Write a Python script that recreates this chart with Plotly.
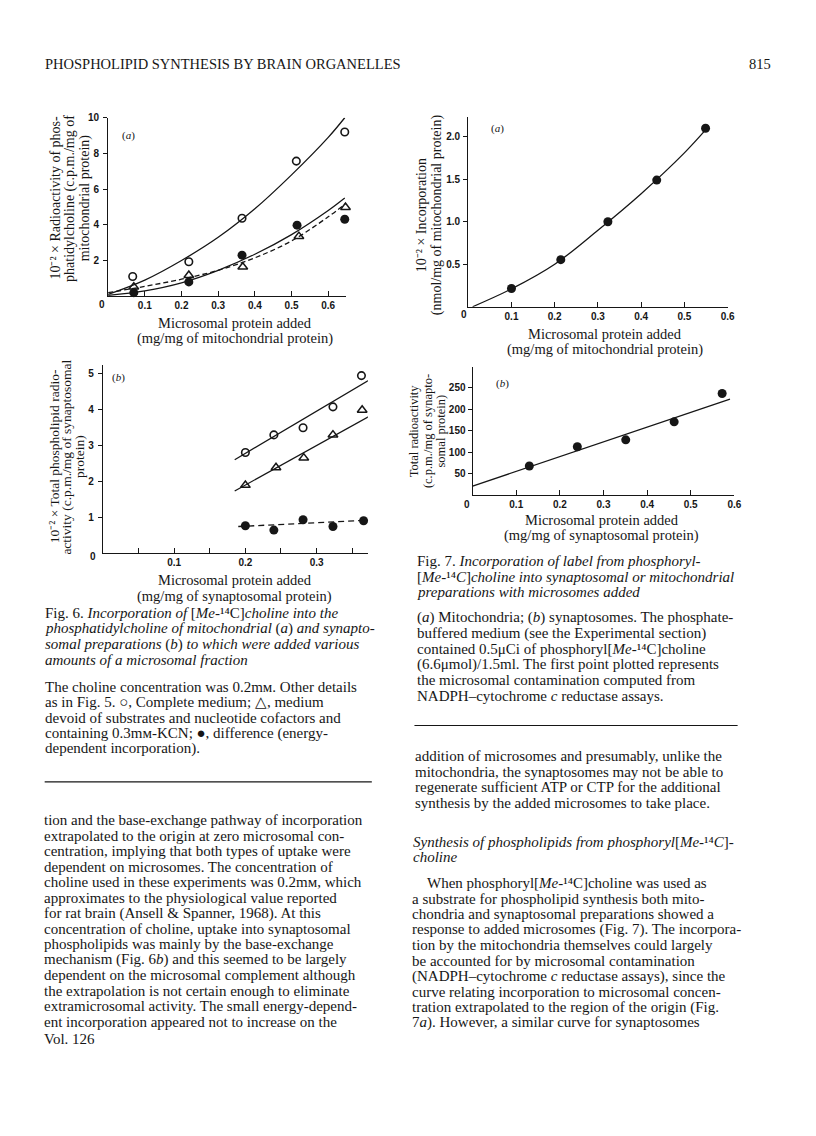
import plotly.graph_objects as go

# page geometry: the figure div sits 8px in from the page corner (default body margin)
PAGE_W, PAGE_H = 816, 1136
OFF = 8
W, H = PAGE_W - OFF, PAGE_H - OFF
SERIF = "Liberation Serif"
SANS = "Liberation Sans"
INK = "#161616"

# ---------------- data ----------------
# Fig. 6a  mitochondria + [Me-14C]choline
f6a_complete_x = [0.067, 0.22, 0.365, 0.513, 0.645]
f6a_complete_y = [1.1, 1.93, 4.37, 7.57, 9.2]
f6a_kcn_x = [0.07, 0.22, 0.367, 0.52, 0.647]
f6a_kcn_y = [0.52, 1.17, 1.64, 3.35, 4.98]
f6a_diff_x = [0.07, 0.22, 0.365, 0.515, 0.645]
f6a_diff_y = [0.2, 0.8, 2.3, 3.98, 4.31]
f6a_curve_x = [0.0, 0.1, 0.2, 0.3, 0.4, 0.5, 0.6, 0.645]
f6a_upper_y = [0.1, 0.9, 2.0, 3.3, 4.9, 6.8, 8.9, 10.0]
f6a_lower_y = [0.05, 0.3, 0.75, 1.45, 2.35, 3.45, 4.8, 5.5]
f6a_dash_x = [0.0, 0.1, 0.2, 0.3, 0.4, 0.5, 0.6, 0.648]
f6a_dash_y = [0.2, 0.55, 0.95, 1.45, 2.15, 3.1, 4.45, 5.2]

# Fig. 6b  synaptosomes
f6b_complete_x = [0.2, 0.24, 0.281, 0.323, 0.363]
f6b_complete_y = [2.8, 3.29, 3.49, 4.07, 4.94]
f6b_kcn_x = [0.2, 0.243, 0.282, 0.323, 0.364]
f6b_kcn_y = [1.89, 2.38, 2.65, 3.29, 3.98]
f6b_diff_x = [0.2, 0.24, 0.281, 0.323, 0.366]
f6b_diff_y = [0.76, 0.64, 0.93, 0.74, 0.9]
f6b_upper_x = [0.185, 0.381]
f6b_upper_y = [2.6, 4.9]
f6b_lower_x = [0.185, 0.384]
f6b_lower_y = [1.73, 3.92]
f6b_dash_x = [0.19, 0.377]
f6b_dash_y = [0.74, 0.92]

# Fig. 7a  mitochondria + phosphoryl[Me-14C]choline
f7a_x = [0.1, 0.214, 0.323, 0.436, 0.549]
f7a_y = [0.214, 0.554, 1.0, 1.49, 2.1]
f7a_curve_x = [0.01, 0.1, 0.2, 0.3, 0.4, 0.5, 0.549]
f7a_curve_y = [0.0, 0.21, 0.5, 0.9, 1.33, 1.81, 2.08]

# Fig. 7b  synaptosomes
f7b_x = [0.13, 0.24, 0.351, 0.462, 0.572]
f7b_y = [68, 113, 129, 171, 237]
f7b_line_x = [0.0, 0.59]
f7b_line_y = [21, 224]

# tick labels
t6a_x = [0.1, 0.2, 0.3, 0.4, 0.5, 0.6]
t6a_y = [2, 4, 6, 8, 10]
t6b_x = [0.1, 0.2, 0.3]
t6b_xminor = [0.05, 0.15, 0.25, 0.35]
t6b_y = [1, 2, 3, 4, 5]
t7a_x = [0.1, 0.2, 0.3, 0.4, 0.5, 0.6]
t7a_y = [0.5, 1.0, 1.5, 2.0]
t7a_ytext = ["0.5", "1.0", "1.5", "2.0"]
t7b_x = [0.1, 0.2, 0.3, 0.4, 0.5, 0.6]
t7b_y = [50, 100, 150, 200, 250]

fig = go.Figure()

def xdom(left, right):
    return [(left - OFF) / W, (right - OFF) / W]

def ydom(top, bottom):
    return [1 - (bottom - OFF) / H, 1 - (top - OFF) / H]

tickfont = dict(family=SANS, size=10, color=INK, weight="bold")

def axis_x(domain, rng, tv, tt, anchor, minor=None):
    d = dict(domain=domain, range=rng, anchor=anchor, showline=True, linecolor=INK,
             linewidth=1.2, showgrid=False, zeroline=False, ticks="inside", ticklen=5,
             tickwidth=1.1, tickcolor=INK, tickvals=tv, ticktext=tt, tickfont=tickfont,
             fixedrange=True)
    if minor:
        d["minor"] = dict(tickvals=minor, ticks="inside", ticklen=5, tickwidth=1.1,
                          tickcolor=INK, showgrid=False)
    return d

def axis_y(domain, rng, tv, tt, anchor, standoff=2):
    return dict(domain=domain, range=rng, anchor=anchor, showline=True, linecolor=INK,
                linewidth=1.2, showgrid=False, zeroline=False, ticks="outside", ticklen=4,
                tickwidth=1.1, tickcolor=INK, tickvals=tv, ticktext=tt, tickfont=tickfont,
                ticklabelstandoff=standoff, fixedrange=True)

fmt = lambda v: [("%g" % t) for t in v]

fig.update_layout(
    xaxis=axis_x(xdom(109, 348.8), [0, 0.648], t6a_x, fmt(t6a_x), "y"),
    yaxis=axis_y(ydom(112.3, 291.7), [0, 10], t6a_y, fmt(t6a_y), "x"),
    xaxis2=axis_x(xdom(103.8, 371), [0, 0.372], t6b_x, fmt(t6b_x), "y2", t6b_xminor),
    yaxis2=axis_y(ydom(360.7, 550), [0, 5.24], t6b_y, fmt(t6b_y), "x2"),
    xaxis3=axis_x(xdom(472.3, 733.9), [0, 0.6], t7a_x, fmt(t7a_x), "y3"),
    yaxis3=axis_y(ydom(111.7, 302.3), [0, 2.23], t7a_y, t7a_ytext, "x3", 1),
    xaxis4=axis_x(xdom(476.7, 740.7), [0, 0.6], t7b_x, fmt(t7b_x), "y4"),
    yaxis4=axis_y(ydom(363.3, 491.7), [0, 298], t7b_y, fmt(t7b_y), "x4", 0),
)

def line(x, y, ax, dash="solid", spline=False):
    fig.add_trace(go.Scatter(x=x, y=y, xaxis=ax[0], yaxis=ax[1], mode="lines",
                             line=dict(color=INK, width=1.3, dash=dash,
                                       shape="spline" if spline else "linear"),
                             hoverinfo="skip", cliponaxis=False))

def pts(x, y, ax, kind):
    if kind == "open":
        m = dict(symbol="circle-open", size=7.5, color=INK, line=dict(width=1.6, color=INK))
    elif kind == "tri":
        m = dict(symbol="triangle-up-open", size=8.5, color=INK, line=dict(width=1.5, color=INK))
    else:
        m = dict(symbol="circle", size=9, color=INK, line=dict(width=0))
    fig.add_trace(go.Scatter(x=x, y=y, xaxis=ax[0], yaxis=ax[1], mode="markers",
                             marker=m, cliponaxis=False))

A6a = ("x", "y"); A6b = ("x2", "y2"); A7a = ("x3", "y3"); A7b = ("x4", "y4")

line(f6a_curve_x, f6a_upper_y, A6a, spline=True)
line(f6a_curve_x, f6a_lower_y, A6a, spline=True)
line(f6a_dash_x, f6a_dash_y, A6a, dash="5px,3px", spline=True)
pts(f6a_complete_x, f6a_complete_y, A6a, "open")
pts(f6a_kcn_x, f6a_kcn_y, A6a, "tri")
pts(f6a_diff_x, f6a_diff_y, A6a, "fill")

line(f6b_upper_x, f6b_upper_y, A6b)
line(f6b_lower_x, f6b_lower_y, A6b)
line(f6b_dash_x, f6b_dash_y, A6b, dash="6px,4px")
pts(f6b_complete_x, f6b_complete_y, A6b, "open")
pts(f6b_kcn_x, f6b_kcn_y, A6b, "tri")
pts(f6b_diff_x, f6b_diff_y, A6b, "fill")

line(f7a_curve_x, f7a_curve_y, A7a, spline=True)
pts(f7a_x, f7a_y, A7a, "fill")

line(f7b_line_x, f7b_line_y, A7b)
pts(f7b_x, f7b_y, A7b, "fill")

# ---------------- text ----------------
def txt(x, y, text, size=15, anchor="left", angle=0, family=SERIF, weight="normal"):
    fig.add_annotation(x=(x - OFF) / W, y=1 - (y - OFF) / H, xref="paper", yref="paper",
                       text=text, showarrow=False, xanchor=anchor, yanchor="middle",
                       textangle=angle, borderpad=0,
                       font=dict(family=family, size=size, color=INK, weight=weight))

# running head
txt(44, 58, "PHOSPHOLIPID SYNTHESIS BY BRAIN ORGANELLES", size=14.5)
txt(779, 58, "815", size=14.5, anchor="right")

# origin zeros
txt(102.7, 300, "0", size=10, anchor="center", family=SANS, weight="bold")
txt(93.3, 553.3, "0", size=10, anchor="center", family=SANS, weight="bold")
txt(467.7, 310, "0", size=10, anchor="center", family=SANS, weight="bold")
txt(470.7, 500.7, "0", size=10, anchor="center", family=SANS, weight="bold")

# panel letters
txt(130, 130, "(<i>a</i>)", size=11, anchor="center")
txt(119, 373.3, "(<i>b</i>)", size=11, anchor="center")
txt(501.7, 122.7, "(<i>a</i>)", size=11, anchor="center")
txt(507.3, 379.3, "(<i>b</i>)", size=11, anchor="center")

# x axis titles
txt(236.7, 318.3, "Microsomal protein added", 14.5, "center")
txt(236.7, 334, "(mg/mg of mitochondrial protein)", 14.5, "center")
txt(236.7, 577.5, "Microsomal protein added", 14.5, "center")
txt(236.7, 593.3, "(mg/mg of synaptosomal protein)", 14.5, "center")
txt(610, 329.3, "Microsomal protein added", 14.5, "center")
txt(610, 345, "(mg/mg of mitochondrial protein)", 14.5, "center")
txt(606.7, 516.7, "Microsomal protein added", 14.5, "center")
txt(606.7, 532.3, "(mg/mg of synaptosomal protein)", 14.5, "center")

# y axis titles (rotated)
TEN = "10⁻² × "
txt(55, 193, TEN + "Radioactivity of phos-", 14, "center", -90)
txt(70.5, 193, "phatidylcholine (c.p.m./mg of", 14, "center", -90)
txt(86, 193, "mitochondrial protein)", 14, "center", -90)
txt(55, 453, TEN + "Total phospholipid radio-", 13.5, "center", -90)
txt(67.5, 453, "activity (c.p.m./mg of synaptosomal", 13.5, "center", -90)
txt(80, 453, "protein)", 13.5, "center", -90)
txt(426, 210, TEN + "Incorporation", 14, "center", -90)
txt(441, 210, "(nmol/mg of mitochondrial protein)", 14, "center", -90)
txt(417, 427, "Total radioactivity", 12.5, "center", -90)
txt(431, 427, "(c.p.m./mg of synapto-", 12.5, "center", -90)
txt(444.5, 427, "somal protein)", 12.5, "center", -90)

MM = "mм"
ME = "[<i>Me</i>-¹⁴C]"

cap6 = [
    "Fig. 6. <i>Incorporation of</i> " + ME + "<i>choline into the</i>",
    "<i>phosphatidylcholine of mitochondrial</i> (<i>a</i>) <i>and synapto-</i>",
    "<i>somal preparations</i> (<i>b</i>) <i>to which were added various</i>",
    "<i>amounts of a microsomal fraction</i>",
]
for i, s in enumerate(cap6):
    txt(44, 610 + i * 15.7, s)

note6 = [
    "The choline concentration was 0.2" + MM + ". Other details",
    "as in Fig. 5. ○, Complete medium; △, medium",
    "devoid of substrates and nucleotide cofactors and",
    "containing 0.3" + MM + "-KCN; ●, difference (energy-",
    "dependent incorporation).",
]
for i, s in enumerate(note6):
    txt(44, 684.3 + i * 15.6, s)

body_left = [
    "tion and the base-exchange pathway of incorporation",
    "extrapolated to the origin at zero microsomal con-",
    "centration, implying that both types of uptake were",
    "dependent on microsomes. The concentration of",
    "choline used in these experiments was 0.2" + MM + ", which",
    "approximates to the physiological value reported",
    "for rat brain (Ansell &amp; Spanner, 1968). At this",
    "concentration of choline, uptake into synaptosomal",
    "phospholipids was mainly by the base-exchange",
    "mechanism (Fig. 6<i>b</i>) and this seemed to be largely",
    "dependent on the microsomal complement although",
    "the extrapolation is not certain enough to eliminate",
    "extramicrosomal activity. The small energy-depend-",
    "ent incorporation appeared not to increase on the",
]
for i, s in enumerate(body_left):
    txt(43, 818.3 + i * 15.62, s)
txt(43, 1038, "Vol. 126")

cap7 = [
    "Fig. 7. <i>Incorporation of label from phosphoryl-</i>",
    "[<i>Me</i>-¹⁴<i>C</i>]<i>choline into synaptosomal or mitochondrial</i>",
    "<i>preparations with microsomes added</i>",
]
for i, s in enumerate(cap7):
    txt(420, 558.3 + i * 15.5, s)

note7 = [
    "(<i>a</i>) Mitochondria; (<i>b</i>) synaptosomes. The phosphate-",
    "buffered medium (see the Experimental section)",
    "contained 0.5μCi of phosphoryl" + ME + "choline",
    "(6.6μmol)/1.5ml. The first point plotted represents",
    "the microsomal contamination computed from",
    "NADPH–cytochrome <i>c</i> reductase assays.",
]
for i, s in enumerate(note7):
    txt(420, 615 + i * 15.67, s)

body_r1 = [
    "addition of microsomes and presumably, unlike the",
    "mitochondria, the synaptosomes may not be able to",
    "regenerate sufficient ATP or CTP for the additional",
    "synthesis by the added microsomes to take place.",
]
for i, s in enumerate(body_r1):
    txt(418, 754 + i * 15.7, s)

txt(416, 840, "<i>Synthesis of phospholipids from phosphoryl</i>[<i>Me</i>-¹⁴<i>C</i>]-")
txt(416, 855.7, "<i>choline</i>")

body_r2 = [
    "a substrate for phospholipid synthesis both mito-",
    "chondria and synaptosomal preparations showed a",
    "response to added microsomes (Fig. 7). The incorpora-",
    "tion by the mitochondria themselves could largely",
    "be accounted for by microsomal contamination",
    "(NADPH–cytochrome <i>c</i> reductase assays), since the",
    "curve relating incorporation to microsomal concen-",
    "tration extrapolated to the region of the origin (Fig.",
    "7<i>a</i>). However, a similar curve for synaptosomes",
]
txt(430, 881.7, "When phosphoryl" + ME + "choline was used as")
for i, s in enumerate(body_r2):
    txt(415, 897.3 + i * 15.63, s)

# rules
def rule(x0, x1, y):
    fig.add_shape(type="line", xref="paper", yref="paper",
                  x0=(x0 - OFF) / W, x1=(x1 - OFF) / W,
                  y0=1 - (y - OFF) / H, y1=1 - (y - OFF) / H,
                  line=dict(color=INK, width=1.2))

rule(45, 375, 780)
rule(418, 744, 723.3)

fig.update_layout(width=W, height=H, autosize=False, margin=dict(l=0, r=0, t=0, b=0),
                  paper_bgcolor="white", plot_bgcolor="white", showlegend=False)

fig.write_html("out.html")
